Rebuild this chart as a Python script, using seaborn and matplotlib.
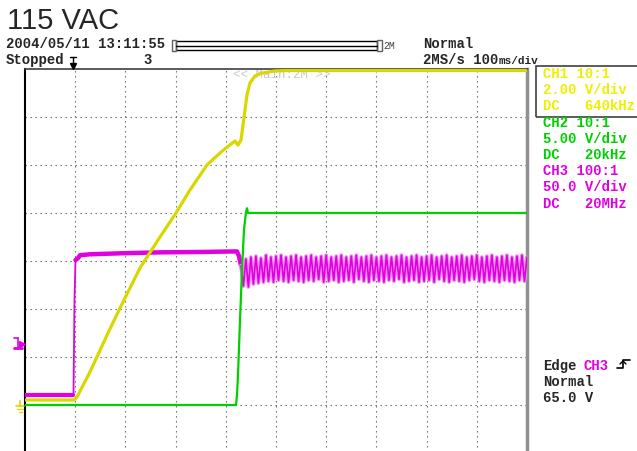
import pandas as pd
import matplotlib
matplotlib.use('Agg')
import matplotlib.pyplot as plt
import seaborn as sns
from matplotlib.lines import Line2D
from matplotlib.patches import Rectangle

# CH1 (yellow), time in ms from left edge, volts
ch1_t = [0, 97.6, 103.6, 129.5, 165.3, 199.2, 229.1, 268.9, 300.8, 328.7, 362.5, 388.4,
         400.4, 418.3, 424.3, 430.3, 434.3, 438.2, 442.2, 448.2, 458.2, 472.1, 498.0, 527.9, 1000]
ch1_v = [0.21, 0.21, 0.33, 1.38, 3.0, 4.46, 5.71, 7.0, 8.0, 8.96, 10.0, 10.5,
         10.71, 11.0, 10.83, 11.04, 11.67, 12.29, 12.92, 13.42, 13.71, 13.83, 13.92, 13.94, 13.94]

# CH2 (green)
ch2_t = [0, 420.3, 422.3, 424.3, 428.3, 432.3, 436.2, 440.2, 442.2, 444.2, 1000]
ch2_v = [0, 0, 1.04, 3.1, 8.85, 14.06, 18.2, 20.1, 20.5, 20.0, 20.0]

# CH3 (magenta) before the ripple
ch3_t = [0, 96.6, 98.6, 100.6, 105.6, 109.6, 129.5, 189, 269, 348.6, 422.3, 426.3, 430.3]
ch3_v = [10.4, 10.4, 109, 151, 153, 156, 157, 158, 159, 159.4, 160, 155, 145]

# CH3 ripple after switch-on
ripple_t = [435, 440, 445, 450, 455, 460, 465, 470, 475, 480, 485, 490,
            495, 500, 505, 510, 515, 520, 525, 530, 535, 540, 545, 550,
            555, 560, 565, 570, 575, 580, 585, 590, 595, 600, 605, 610,
            615, 620, 625, 630, 635, 640, 645, 650, 655, 660, 665, 670,
            675, 680, 685, 690, 695, 700, 705, 710, 715, 720, 725, 730,
            735, 740, 745, 750, 755, 760, 765, 770, 775, 780, 785, 790,
            795, 800, 805, 810, 815, 820, 825, 830, 835, 840, 845, 850,
            855, 860, 865, 870, 875, 880, 885, 890, 895, 900, 905, 910,
            915, 920, 925, 930, 935, 940, 945, 950, 955, 960, 965, 970,
            975, 980, 985, 990, 995, 1000]
ripple_v = [124, 152, 123, 154, 126, 155, 127, 153, 128, 156, 129, 154,
            128, 155, 130, 156, 129, 154, 128, 155, 130, 156, 129, 154,
            128, 155, 130, 156, 129, 154, 131, 155, 128, 156, 129, 154,
            130, 155, 128, 156, 129, 154, 130, 155, 128, 156, 131, 154,
            129, 155, 128, 156, 130, 154, 129, 155, 128, 156, 130, 154,
            129, 155, 131, 156, 128, 154, 129, 155, 130, 156, 128, 154,
            129, 155, 130, 156, 128, 154, 131, 155, 129, 156, 128, 154,
            130, 155, 129, 156, 128, 154, 130, 155, 131, 156, 129, 154,
            128, 155, 130, 156, 129, 154, 128, 155, 130, 156, 129, 154,
            128, 155, 130, 156, 129, 154]

# volts per division, ground sits one division above the bottom
vdiv = {'CH1': 2.0, 'CH2': 5.0, 'CH3': 50.0}
ground = 1.0

YEL = '#d8d800'
GRN = '#00d000'
MAG = '#e000e0'

W, H = 637, 451
sns.set_style('white')
plt.rcParams['font.family'] = ['Liberation Mono', 'DejaVu Sans Mono']

fig = plt.figure(figsize=(W / 100, H / 100), dpi=100)
ax = fig.add_axes([25 / W, -2 / H, 502 / W, 384 / H])

def to_div(v, ch):
    return [ground + x / vdiv[ch] for x in v]

def frame(t, v, ch):
    return pd.DataFrame({'t': t, 'div': to_div(v, ch)})

df1 = frame(ch1_t, ch1_v, 'CH1')
df2 = frame(ch2_t, ch2_v, 'CH2')
# CH3 split so the flat parts are drawn thick and the edges thin
df3_low = frame(ch3_t[:2], ch3_v[:2], 'CH3')
df3_edge = frame(ch3_t[1:5], ch3_v[1:5], 'CH3')
df3_high = frame(ch3_t[3:], ch3_v[3:], 'CH3')
df3r = frame([ch3_t[-1]] + ripple_t, [ch3_v[-1]] + ripple_v, 'CH3')

# grid
for gx in range(100, 1000, 100):
    ax.axvline(gx, color='#606060', lw=0.8, ls=(0, (1.2, 3.3)), zorder=1)
for gy in range(1, 8):
    ax.axhline(gy, color='#606060', lw=0.8, ls=(0, (1.2, 3.3)), zorder=1)

ax.text(233 / W, 1 - 78 / H, '<< Main:2M >>', transform=fig.transFigure, color='#c8c8c8',
        fontsize=9, zorder=1.5)

kw = dict(ax=ax, x='t', y='div', sort=False, estimator=None)
sns.lineplot(data=df3_low, color=MAG, lw=3.0, zorder=3, **kw)
sns.lineplot(data=df3_edge, color=MAG, lw=1.3, zorder=3, **kw)
sns.lineplot(data=df3_high, color=MAG, lw=3.2, zorder=3, **kw)
sns.lineplot(data=df3r, color='#f090f0', lw=2.8, zorder=3, **kw)
sns.lineplot(data=df3r, color=MAG, lw=1.2, zorder=3, **kw)
sns.lineplot(data=df1, color=YEL, lw=2.3, zorder=4, **kw)
sns.lineplot(data=df2, color=GRN, lw=1.6, zorder=5, **kw)

ax.set_xlim(0, 1000)
ax.set_ylim(0, 8)
ax.set_xticks([])
ax.set_yticks([])
ax.set_xlabel('')
ax.set_ylabel('')
ax.spines['left'].set_color('black')
ax.spines['left'].set_linewidth(1.5)
ax.spines['top'].set_color('#404040')
ax.spines['top'].set_linewidth(1.2)
ax.spines['right'].set_color('#909090')
ax.spines['right'].set_linewidth(2.5)
ax.spines['bottom'].set_visible(False)

def ftext(x, y, s, **kw):
    kw.setdefault('fontsize', 10)
    kw.setdefault('fontweight', 'bold')
    kw.setdefault('va', 'baseline')
    fig.text(x / W, 1 - y / H, s, **kw)

ftext(7, 29, '115 VAC', fontsize=21, fontweight='normal', family='Liberation Sans')
ftext(6, 48, '2004/05/11 13:11:55')
ftext(6, 64, 'Stopped')
ftext(143, 64, '3')
ftext(423, 48, 'Normal')
ftext(423, 64, '2MS/s 100')
ftext(499, 64, 'ms/div', fontsize=8)

ch_lines = [('CH1 10:1', YEL), ('2.00 V/div', YEL), ('DC   640kHz', YEL),
            ('CH2 10:1', GRN), ('5.00 V/div', GRN), ('DC   20kHz', GRN),
            ('CH3 100:1', MAG), ('50.0 V/div', MAG), ('DC   20MHz', MAG)]
for i, (s, c) in enumerate(ch_lines):
    ftext(543, 78 + i * 16.2, s, color=c if c != YEL else '#eeee00')

fig.add_artist(Rectangle((536 / W, 1 - 117 / H), 110 / W, 51 / H, transform=fig.transFigure,
                         fill=False, ec='#404040', lw=1.2))

ftext(543, 370, 'Edge')
ftext(583, 370, 'CH3', color=MAG)
ftext(543, 386, 'Normal')
ftext(543, 402, '65.0 V')

def fline(xs, ys, **kw):
    fig.add_artist(Line2D([x / W for x in xs], [1 - y / H for y in ys], transform=fig.transFigure, **kw))

# edge symbol
fline([617, 623, 623, 630], [368, 368, 360, 360], color='black', lw=1.2)
fline([620, 623, 626], [364, 361, 364], color='black', lw=1.0)

# zoom bar
fig.add_artist(Rectangle((176 / W, 1 - 50 / H), 201 / W, 9 / H, transform=fig.transFigure,
                         fill=False, ec='black', lw=1.0))
fline([176, 377], [45.5, 45.5], color='black', lw=1.0)
fig.add_artist(Rectangle((172 / W, 1 - 51 / H), 4 / W, 11 / H, transform=fig.transFigure,
                         fill=False, ec='#606060', lw=1.0))
fig.add_artist(Rectangle((377 / W, 1 - 51 / H), 5 / W, 11 / H, transform=fig.transFigure,
                         fill=False, ec='#606060', lw=1.0))
ftext(383, 49, '2M', fontsize=7, fontweight='normal', color='#404040')

# trigger position marker
fline([70, 76], [57, 57], color='black', lw=1.0)
fline([73, 73], [57, 64], color='black', lw=1.0)
fline([73], [66], marker='v', ms=4, color='black', lw=0)

# trigger level marker (CH3) and ground marker (CH1)
fline([14, 22], [348, 348], color=MAG, lw=2)
fline([18, 18], [338, 348], color=MAG, lw=1.2)
fline([14, 18], [338, 338], color=MAG, lw=1.2)
fline([22], [344], marker='>', ms=5, color=MAG, lw=0)
fline([16, 24], [406, 406], color=YEL, lw=1.2)
fline([20, 20], [401, 406], color=YEL, lw=1.2)
fline([17, 23], [409, 409], color=YEL, lw=1.0)
fline([18.5, 21.5], [412, 412], color=YEL, lw=1.0)

fig.savefig('out.png', dpi=100)
